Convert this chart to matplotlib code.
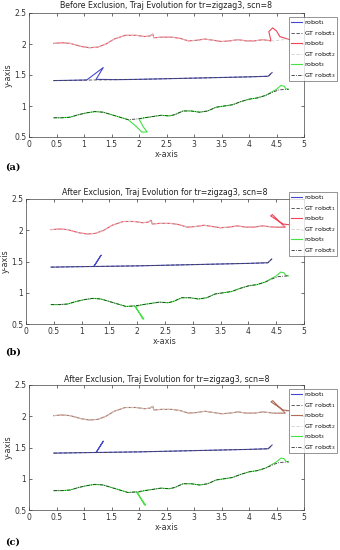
import matplotlib
matplotlib.use('Agg')
import matplotlib.pyplot as plt

# ground truth paths (shared by all panels)
gt1_x = [0.45, 0.8, 1.2, 1.6, 2.0, 2.5, 3.0, 3.5, 4.0, 4.35, 4.42]
gt1_y = [1.41, 1.415, 1.42, 1.425, 1.43, 1.44, 1.45, 1.46, 1.47, 1.48, 1.54]

gt2_x = [0.45, 0.6, 0.75, 0.95, 1.1, 1.25, 1.4, 1.55, 1.75, 1.95, 2.1, 2.2, 2.25, 2.27,
         2.4, 2.6, 2.75, 2.9, 3.05, 3.2, 3.35, 3.5, 3.65, 3.8, 3.95, 4.1, 4.25, 4.45, 4.72]
gt2_y = [2.01, 2.02, 2.01, 1.96, 1.94, 1.95, 2.0, 2.08, 2.14, 2.14, 2.12, 2.13, 2.16, 2.10,
         2.11, 2.11, 2.09, 2.05, 2.06, 2.08, 2.06, 2.04, 2.05, 2.07, 2.05, 2.05, 2.07, 2.05, 2.08]

gt3_x = [0.45, 0.6, 0.75, 0.9, 1.05, 1.2, 1.35, 1.5, 1.65, 1.8, 1.95, 2.1, 2.25, 2.4, 2.55,
         2.65, 2.8, 2.95, 3.1, 3.25, 3.4, 3.55, 3.7, 3.85, 4.0, 4.15, 4.3, 4.45, 4.55, 4.72]
gt3_y = [0.81, 0.81, 0.82, 0.86, 0.89, 0.91, 0.9, 0.86, 0.82, 0.78, 0.79, 0.81, 0.83, 0.85, 0.84,
         0.86, 0.92, 0.92, 0.9, 0.92, 0.98, 1.0, 1.02, 1.07, 1.11, 1.13, 1.17, 1.23, 1.26, 1.27]

# estimated paths before exclusion (panel a)
r1a_x = [0.45, 0.8, 1.05, 1.35, 1.22, 1.6, 2.0, 2.5, 3.0, 3.5, 4.0, 4.35, 4.42]
r1a_y = [1.41, 1.415, 1.42, 1.62, 1.43, 1.425, 1.43, 1.44, 1.45, 1.46, 1.47, 1.48, 1.54]

r2a_x = gt2_x[:-2] + [4.4, 4.36, 4.43, 4.5, 4.56, 4.74]
r2a_y = gt2_y[:-2] + [2.05, 2.2, 2.26, 2.21, 2.12, 2.07]

r3a_x = gt3_x[:10] + [1.95, 2.05, 2.15, 2.08, 2.0, 2.1] + gt3_x[12:-3] + [4.5, 4.58, 4.64, 4.67, 4.72]
r3a_y = gt3_y[:10] + [0.67, 0.58, 0.58, 0.66, 0.79, 0.81] + gt3_y[12:-3] + [1.27, 1.33, 1.32, 1.28, 1.27]

# estimated paths after exclusion (panels b and c)
r1b_x = [0.45, 0.8, 1.2, 1.22, 1.35, 1.22, 1.6, 2.0, 2.5, 3.0, 3.5, 4.0, 4.35, 4.42]
r1b_y = [1.41, 1.415, 1.42, 1.42, 1.60, 1.42, 1.425, 1.43, 1.44, 1.45, 1.46, 1.47, 1.48, 1.54]

r2b_x = gt2_x[:-2] + [4.45, 4.66, 4.43, 4.4, 4.62, 4.72]
r2b_y = gt2_y[:-2] + [2.05, 2.05, 2.25, 2.23, 2.10, 2.09]

r3b_x = gt3_x[:11] + [2.12, 2.1, 1.97, 2.1] + gt3_x[12:-3] + [4.5, 4.58, 4.64, 4.67, 4.72]
r3b_y = gt3_y[:11] + [0.58, 0.58, 0.78, 0.81] + gt3_y[12:-3] + [1.27, 1.33, 1.32, 1.28, 1.27]

titles = ['Before Exclusion, Traj Evolution for tr=zigzag3, scn=8',
          'After Exclusion, Traj Evolution for tr=zigzag3, scn=8',
          'After Exclusion, Traj Evolution for tr=zigzag3, scn=8']
panel_labels = ['(a)', '(b)', '(c)']
leg_labels = ['robot$_1$', 'GT robot$_1$', 'robot$_2$', 'GT robot$_2$', 'robot$_3$', 'GT robot$_3$']
xticks = [0, 0.5, 1, 1.5, 2, 2.5, 3, 3.5, 4, 4.5, 5]
yticks = [0.5, 1, 1.5, 2, 2.5]

fig = plt.figure(figsize=(3.4, 5.5), dpi=100)
W, H = 340.0, 550.0

# pixel boxes: left, top, right, bottom ; legend top-left
boxes = [(29, 13, 304, 137), (26, 199, 304, 324), (29, 385, 304, 510)]
leg_pos = [(289, 17), (289, 192), (289, 389)]
title_y = [6, 193, 379]
lab_y = [167, 352, 542]
red_cols = ['#ee4455', '#ee4455', '#b06a55']

paths = [(r1a_x, r1a_y, r2a_x, r2a_y, r3a_x, r3a_y),
         (r1b_x, r1b_y, r2b_x, r2b_y, r3b_x, r3b_y),
         (r1b_x, r1b_y, r2b_x, r2b_y, r3b_x, r3b_y)]

for i in range(3):
    l, t, r, b = boxes[i]
    ax = fig.add_axes([l / W, 1 - b / H, (r - l) / W, (b - t) / H])
    p = paths[i]
    lw = 0.8
    h1, = ax.plot(p[0], p[1], color='#4848cc', lw=lw)
    g1, = ax.plot(gt1_x, gt1_y, color='#404040', lw=0.6, ls=(0, (4, 2)))
    h2, = ax.plot(p[2], p[3], color=red_cols[i], lw=lw)
    g2, = ax.plot(gt2_x, gt2_y, color='#cfcfcf', lw=0.6, ls=(0, (4, 2)))
    h3, = ax.plot(p[4], p[5], color='#44e044', lw=lw)
    g3, = ax.plot(gt3_x, gt3_y, color='#303030', lw=0.6, ls=(0, (4, 1.5, 1, 1.5)))
    ax.set_xlim(0, 5)
    ax.set_ylim(0.5, 2.5)
    ax.set_xticks(xticks)
    ax.set_xticklabels(['0', '0.5', '1', '1.5', '2', '2.5', '3', '3.5', '4', '4.5', '5'])
    ax.set_yticks(yticks)
    ax.set_yticklabels(['0.5', '1', '1.5', '2', '2.5'])
    ax.tick_params(direction='in', length=2, width=0.5, labelsize=5.5, pad=2,
                   colors='#333333', top=True, right=True)
    for s in ax.spines.values():
        s.set_linewidth(0.5)
        s.set_color('#444444')
    ax.set_xlabel('x-axis', fontsize=5.8, labelpad=1, color='#333333')
    ax.set_ylabel('y-axis', fontsize=5.8, labelpad=1, color='#333333')
    fig.text((l + r) / 2 / W, 1 - title_y[i] / H, titles[i], ha='center', va='center',
             fontsize=5.7, color='#222222')
    fig.text(5 / W, 1 - lab_y[i] / H, panel_labels[i], ha='left', va='center',
             fontsize=7, fontweight='bold', family='DejaVu Serif')
    lx, ly = leg_pos[i]
    leg = fig.legend([h1, g1, h2, g2, h3, g3], leg_labels, loc='upper left',
                     bbox_to_anchor=(lx / W, 1 - ly / H), bbox_transform=fig.transFigure,
                     prop={'size': 4.5}, frameon=True, fancybox=False, handlelength=1.8,
                     handletextpad=0.3, labelspacing=0.25, borderpad=0.25,
                     borderaxespad=0)
    leg.get_frame().set_linewidth(0.5)
    leg.get_frame().set_edgecolor('#444444')

fig.savefig('out.png', dpi=100)
